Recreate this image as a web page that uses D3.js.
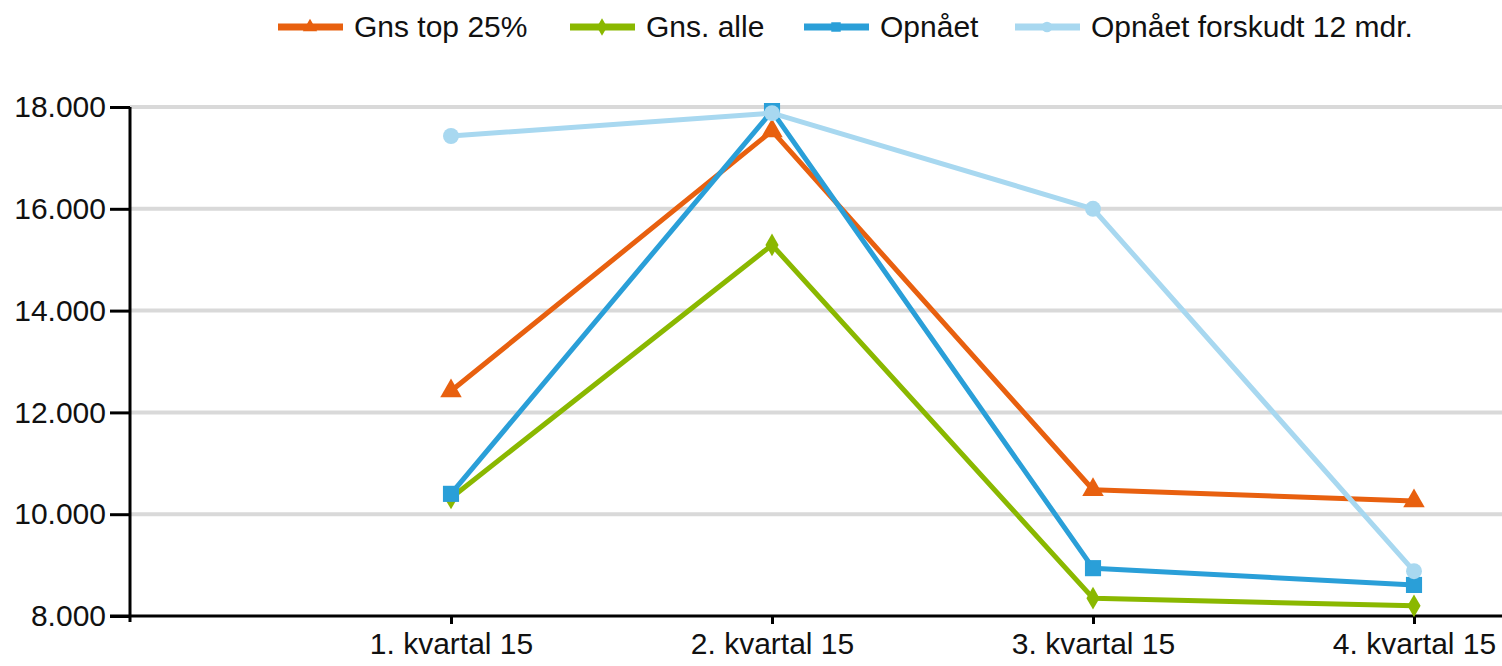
<!DOCTYPE html>
<html><head><meta charset="utf-8">
<script src="https://cdn.jsdelivr.net/npm/d3@7"></script>
<style>body{margin:0;background:#fff;} text{font-family:"Liberation Sans",Arial,sans-serif;}</style>
</head><body>
<svg id="c" width="1502" height="666"></svg>
<script>
const categories = ["1. kvartal 15","2. kvartal 15","3. kvartal 15","4. kvartal 15"];
const seriesNames = ["Gns top 25%","Gns. alle","Opnået","Opnået forskudt 12 mdr."];
const top25 = [12420,17530,10480,10260];
const alle = [10320,15290,8350,8200];
const opnaet = [10400,17920,8940,8610];
const forskudt = [17430,17880,16000,8880];
const yTicks = [8000,10000,12000,14000,16000,18000];

const colors = ["#e8600f","#8ab800","#2a9fd8","#a8d8f0"];
const symbols = [d3.symbolTriangle, d3.symbolDiamond, d3.symbolSquare, d3.symbolCircle];
const symSizes = [200,150,260,200];
const data = [top25, alle, opnaet, forskudt];

const svg = d3.select("#c");
const x = d3.scalePoint().domain(["", ...categories]).range([130,1414]);
const y = d3.scaleLinear().domain([8000,18000]).range([616,107]);
const fmt = v => d3.format(",")(v).replace(/,/g,".");
const FS = 30;

// gridlines
svg.append("g").selectAll("line").data(yTicks.slice(1)).join("line")
  .attr("x1",130).attr("x2",1502).attr("y1",d=>y(d)).attr("y2",d=>y(d))
  .attr("stroke","#d9d9d9").attr("stroke-width",4);

// y axis
const ya = svg.append("g").attr("transform","translate(130,0)")
  .call(d3.axisLeft(y).tickValues(yTicks).tickFormat(fmt).tickSize(20).tickPadding(4));
ya.select(".domain").attr("d","M0,"+y(18000)+"V622").attr("stroke","#000").attr("stroke-width",3);
ya.selectAll(".tick line").attr("stroke","#000").attr("stroke-width",3);
ya.selectAll(".tick text").attr("font-size",FS).attr("fill","#111").attr("font-family","Liberation Sans, Arial, sans-serif");

// x axis
const xa = svg.append("g").attr("transform","translate(0,"+y(8000)+")")
  .call(d3.axisBottom(x).tickValues(categories).tickSize(8).tickPadding(9));
xa.select(".domain").attr("d","M110,0H1502").attr("stroke","#000").attr("stroke-width",3);
xa.selectAll(".tick line").attr("stroke","#000").attr("stroke-width",3);
xa.selectAll(".tick text").attr("font-size",FS).attr("fill","#111").attr("font-family","Liberation Sans, Arial, sans-serif");

// lines
const line = d3.line().x((d,i)=>x(categories[i])).y(d=>y(d));
data.forEach((s,k)=>{
  svg.append("path").datum(s).attr("d",line).attr("fill","none")
    .attr("stroke",colors[k]).attr("stroke-width",5).attr("stroke-linejoin","round");
  svg.append("g").selectAll("path").data(s).join("path")
    .attr("transform",(d,i)=>"translate("+x(categories[i])+","+y(d)+")")
    .attr("d",d3.symbol().type(symbols[k]).size(symSizes[k]))
    .attr("fill",colors[k]);
});

// legend
const legX = [278,570,804,1015];
const lg = svg.append("g");
seriesNames.forEach((n,k)=>{
  const g = lg.append("g").attr("transform","translate("+legX[k]+",27)");
  g.append("line").attr("x1",0).attr("x2",65).attr("stroke",colors[k]).attr("stroke-width",7);
  g.append("path").attr("transform","translate(32,0)")
    .attr("d",d3.symbol().type(symbols[k]).size(90)).attr("fill",colors[k]);
  g.append("text").attr("x",76).attr("y",10).attr("font-size",FS).attr("fill","#111").text(n);
});
</script>
</body></html>
